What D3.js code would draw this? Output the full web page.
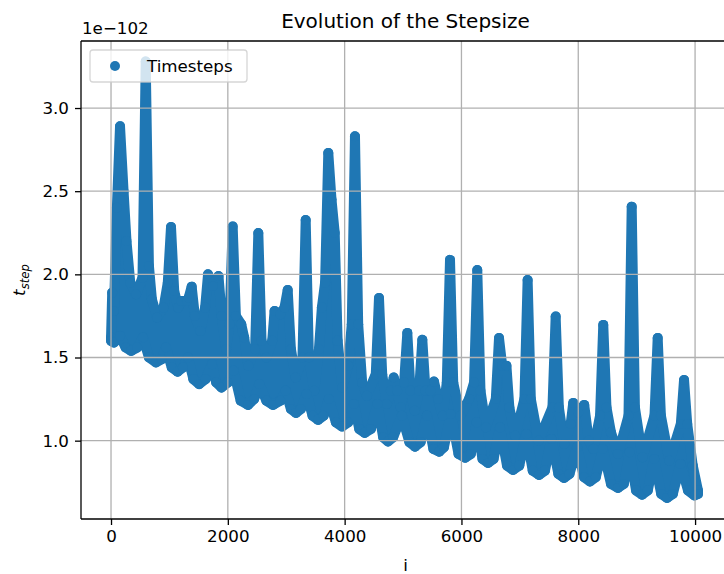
<!DOCTYPE html>
<html>
<head>
<meta charset="utf-8">
<script src="https://cdn.jsdelivr.net/npm/d3@7"></script>
<style>
  body { margin: 0; background: #fff; }
  svg { display: block; font-family: "DejaVu Sans", sans-serif; }
</style>
</head>
<body>
<div id="chart"></div>
<script>
// step sizes in units of 1e-102; the scatter is so dense that it is read off as
// an upper edge (peaks and gap floors) and a lower edge (troughs and notches)
const upperIdx = [0, 20, 50, 100, 154, 215, 265, 330, 428, 539, 594, 649, 700, 790, 900, 972, 1027, 1082, 1150, 1200,
    1300, 1330, 1381, 1436, 1530, 1611, 1661, 1746, 1840, 1895, 1970, 2028, 2083, 2138, 2230, 2280, 2350, 2467, 2522, 2577,
    2660, 2760, 2800, 2900, 2970, 3025, 3080, 3160, 3278, 3333, 3388, 3480, 3560, 3610, 3665, 3720, 3775, 3830, 3880, 3960,
    4060, 4122, 4177, 4232, 4300, 4380, 4533, 4588, 4643, 4720, 4790, 4840, 4900, 4960, 5018, 5073, 5128, 5200, 5275, 5330,
    5385, 5470, 5530, 5600, 5680, 5749, 5804, 5859, 5980, 6130, 6216, 6271, 6326, 6420, 6588, 6643, 6698, 6770, 6820, 6920,
    7078, 7133, 7188, 7320, 7558, 7613, 7668, 7760, 7870, 7914, 8000, 8102, 8180, 8260, 8373, 8428, 8483, 8560, 8680, 8860,
    8915, 8970, 9100, 9305, 9360, 9415, 9560, 9756, 9811, 9866, 9960, 10050];
const upperVal = [1.62, 1.89, 1.78, 2.40, 2.89, 2.50, 2.20, 1.95, 1.88, 1.98, 3.28, 2.05, 1.85, 1.74, 1.80, 1.95, 2.285, 1.90, 1.80, 1.84,
    1.84, 1.86, 1.926, 1.75, 1.66, 1.80, 2.00, 1.93, 1.99, 1.75, 1.55, 1.70, 2.287, 1.75, 1.70, 1.62, 1.45, 1.55, 2.248, 1.60,
    1.50, 1.60, 1.78, 1.76, 1.80, 1.906, 1.55, 1.38, 1.50, 2.327, 1.50, 1.30, 1.55, 1.80, 1.95, 2.73, 2.45, 2.25, 1.60, 1.32,
    1.45, 1.70, 2.83, 1.70, 1.35, 1.27, 1.40, 1.858, 1.40, 1.22, 1.30, 1.38, 1.30, 1.20, 1.35, 1.648, 1.30, 1.18, 1.30, 1.606,
    1.30, 1.30, 1.355, 1.25, 1.15, 1.35, 2.087, 1.35, 1.15, 1.25, 1.35, 2.026, 1.30, 1.08, 1.25, 1.617, 1.45, 1.45, 1.20, 1.03,
    1.25, 1.966, 1.25, 1.00, 1.20, 1.746, 1.20, 0.98, 1.10, 1.227, 1.17, 1.215, 1.00, 0.95, 1.15, 1.696, 1.20, 1.05, 0.92, 1.15,
    2.407, 1.20, 0.90, 1.15, 1.617, 1.15, 0.88, 1.10, 1.365, 1.10, 0.85, 0.70];

const lowerIdx = [0, 50, 154, 250, 345, 450, 548, 650, 770, 870, 941, 1040, 1140, 1230, 1318, 1410, 1510, 1620, 1729, 1800,
    1890, 2000, 2100, 2220, 2346, 2450, 2540, 2660, 2774, 2900, 2990, 3080, 3168, 3250, 3350, 3450, 3544, 3640, 3730, 3850,
    3955, 4060, 4160, 4250, 4345, 4450, 4560, 4660, 4743, 4830, 4980, 5110, 5205, 5300, 5410, 5520, 5620, 5700, 5820, 5950,
    6061, 6160, 6260, 6360, 6455, 6550, 6660, 6780, 6883, 6990, 7110, 7220, 7328, 7430, 7540, 7660, 7756, 7850, 7980, 8100,
    8200, 8300, 8420, 8560, 8680, 8780, 8880, 8990, 9092, 9190, 9300, 9420, 9520, 9620, 9750, 9880, 9990, 10050];
const lowerVal = [1.60, 1.59, 1.63, 1.56, 1.54, 1.56, 1.62, 1.50, 1.47, 1.49, 1.56, 1.44, 1.415, 1.44, 1.50, 1.37, 1.34, 1.37, 1.46, 1.35,
    1.32, 1.35, 1.42, 1.24, 1.215, 1.25, 1.34, 1.24, 1.215, 1.24, 1.30, 1.19, 1.167, 1.19, 1.28, 1.15, 1.125, 1.15, 1.25, 1.11,
    1.085, 1.11, 1.22, 1.07, 1.047, 1.07, 1.22, 1.02, 0.995, 1.02, 1.15, 0.99, 0.964, 0.99, 1.15, 0.95, 0.934, 0.96, 1.16, 0.92,
    0.897, 0.92, 1.11, 0.89, 0.866, 0.89, 1.08, 0.85, 0.824, 0.85, 1.04, 0.82, 0.794, 0.82, 1.01, 0.80, 0.776, 0.80, 0.96, 0.78,
    0.754, 0.78, 0.95, 0.74, 0.716, 0.74, 0.93, 0.70, 0.675, 0.70, 0.89, 0.68, 0.656, 0.68, 0.86, 0.70, 0.67, 0.68];

const xTicks = [0, 2000, 4000, 6000, 8000, 10000];
const yTicks = [1.0, 1.5, 2.0, 2.5, 3.0];
const xLim = [-514, 10598];
const yLim = [0.529, 3.403];

const width = 724, height = 574;
const plot = { left: 81, right: 730, top: 41, bottom: 519 };
const blue = "#1f77b4";
const markerR = 5;

const upper = upperIdx.map((d, k) => ({ i: d, v: upperVal[k] }));
const lower = lowerIdx.map((d, k) => ({ i: d, v: lowerVal[k] }));

const x = d3.scaleLinear().domain(xLim).range([plot.left, plot.right]);
const y = d3.scaleLinear().domain(yLim).range([plot.bottom, plot.top]);

const svg = d3.select("#chart").append("svg")
    .attr("width", width)
    .attr("height", height);

svg.append("rect").attr("width", width).attr("height", height).attr("fill", "#fff");

svg.append("clipPath").attr("id", "plotclip")
    .append("rect")
    .attr("x", plot.left).attr("y", plot.top)
    .attr("width", plot.right - plot.left).attr("height", plot.bottom - plot.top);

// the scatter cloud: outline = upper edge left to right, then lower edge back
const data = svg.append("g").attr("clip-path", "url(#plotclip)");

const outline = d3.line()
    .x(d => x(d.i))
    .y(d => y(d.v))
    .curve(d3.curveLinearClosed);

data.append("path")
    .datum(upper.concat(lower.slice().reverse()))
    .attr("d", outline)
    .attr("fill", blue)
    .attr("stroke", blue)
    .attr("stroke-width", markerR * 2)
    .attr("stroke-linejoin", "round");

data.selectAll("circle.pt")
    .data(upper.concat(lower))
    .enter().append("circle")
    .attr("class", "pt")
    .attr("cx", d => x(d.i))
    .attr("cy", d => y(d.v))
    .attr("r", markerR)
    .attr("fill", blue);

// grid (matplotlib draws it over the scatter collection)
const grid = svg.append("g").attr("clip-path", "url(#plotclip)");
grid.selectAll("line.gx")
    .data(xTicks)
    .enter().append("line")
    .attr("x1", d => x(d)).attr("x2", d => x(d))
    .attr("y1", plot.top).attr("y2", plot.bottom)
    .attr("stroke", "#b0b0b0").attr("stroke-width", 1.3);
grid.selectAll("line.gy")
    .data(yTicks)
    .enter().append("line")
    .attr("y1", d => y(d)).attr("y2", d => y(d))
    .attr("x1", plot.left).attr("x2", plot.right)
    .attr("stroke", "#b0b0b0").attr("stroke-width", 1.3);

// axes
const xAxis = svg.append("g")
    .attr("transform", `translate(0,${plot.bottom})`)
    .call(d3.axisBottom(x).tickValues(xTicks).tickFormat(d3.format("d")).tickSize(6).tickPadding(5));
const yAxis = svg.append("g")
    .attr("transform", `translate(${plot.left},0)`)
    .call(d3.axisLeft(y).tickValues(yTicks).tickFormat(d3.format(".1f")).tickSize(6).tickPadding(6));

[xAxis, yAxis].forEach(g => {
    g.select(".domain").remove();
    g.selectAll(".tick line").attr("stroke", "#000").attr("stroke-width", 1.3);
    g.selectAll(".tick text")
        .attr("fill", "#000")
        .style("font-family", "DejaVu Sans")
        .style("font-size", "16.7px");
});

// spines
const spines = svg.append("g").attr("stroke", "#000").attr("stroke-width", 1.3).attr("fill", "none");
spines.append("line").attr("x1", plot.left).attr("x2", plot.left).attr("y1", plot.top).attr("y2", plot.bottom);
spines.append("line").attr("x1", plot.left).attr("x2", plot.right).attr("y1", plot.bottom).attr("y2", plot.bottom);
spines.append("line").attr("x1", plot.left).attr("x2", plot.right).attr("y1", plot.top).attr("y2", plot.top);
spines.append("line").attr("x1", plot.right).attr("x2", plot.right).attr("y1", plot.top).attr("y2", plot.bottom);

// title, offset text, labels
svg.append("text")
    .attr("x", (plot.left + plot.right) / 2).attr("y", 28)
    .attr("text-anchor", "middle")
    .style("font-size", "20px")
    .attr("fill", "#000")
    .text("Evolution of the Stepsize");

svg.append("text")
    .attr("x", plot.left + 1).attr("y", 34)
    .style("font-size", "16.7px")
    .attr("fill", "#000")
    .text("1e\u2212102");

svg.append("text")
    .attr("x", (plot.left + plot.right) / 2).attr("y", 571)
    .attr("text-anchor", "middle")
    .style("font-size", "16.7px")
    .attr("fill", "#000")
    .text("i");

const yLabel = svg.append("text")
    .attr("transform", `translate(25,${(plot.top + plot.bottom) / 2}) rotate(-90)`)
    .attr("text-anchor", "middle")
    .style("font-size", "16.7px")
    .style("font-style", "italic")
    .attr("fill", "#000");
yLabel.append("tspan").text("t");
yLabel.append("tspan").attr("dy", 4).style("font-size", "11.7px").text("step");

// legend
const legend = svg.append("g");
legend.append("rect")
    .attr("x", 90).attr("y", 50).attr("width", 157).attr("height", 32)
    .attr("rx", 3)
    .attr("fill", "#fff").attr("fill-opacity", 0.8)
    .attr("stroke", "#cccccc").attr("stroke-opacity", 0.8).attr("stroke-width", 1.3);
legend.append("circle")
    .attr("cx", 115).attr("cy", 66).attr("r", markerR)
    .attr("fill", blue);
legend.append("text")
    .attr("x", 147).attr("y", 72)
    .style("font-size", "16.7px")
    .attr("fill", "#000")
    .text("Timesteps");
</script>
</body>
</html>
